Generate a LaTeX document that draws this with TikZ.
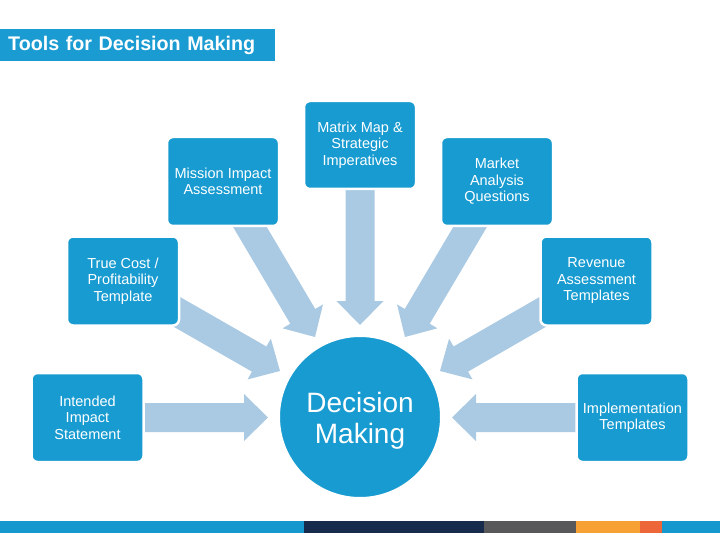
\documentclass[tikz,border=0pt]{standalone}
\usepackage{fontspec}
\setmainfont{Liberation Sans}
\usetikzlibrary{calc}
\definecolor{boxblue}{RGB}{24,155,208}
\definecolor{titleblue}{RGB}{26,155,210}
\definecolor{arrowblue}{RGB}{170,202,227}
\definecolor{barblue}{RGB}{20,152,206}
\definecolor{barnavy}{RGB}{23,43,77}
\definecolor{bargray}{RGB}{88,88,90}
\definecolor{barorange}{RGB}{247,160,52}
\definecolor{barred}{RGB}{237,102,57}
\newcommand\blockarrow[3]{%
  \coordinate (#1-h) at ($(#3)!24pt!(#2)$);
  \fill[arrowblue] ($(#2)!14.5pt!90:(#3)$) -- ($(#1-h)!14.5pt!90:(#3)$) -- ($(#1-h)!23.5pt!90:(#3)$) -- (#3)
    -- ($(#1-h)!23.5pt!-90:(#3)$) -- ($(#1-h)!14.5pt!-90:(#3)$) -- ($(#2)!14.5pt!-90:(#3)$) -- cycle;
}
\tikzset{
  toolbox/.style={rectangle, rounded corners=6pt, fill=boxblue, draw=white, line width=2.5pt,
    minimum width=112pt, minimum height=89pt, inner sep=2pt, align=center, text=white,
    font=\fontsize{14.5}{16.5}\selectfont},
  centre/.style={circle, fill=boxblue, draw=white, line width=2pt, minimum size=162pt, inner sep=0pt,
    align=center, text=white, font=\fontsize{28}{31}\selectfont},
}
\begin{document}
\begin{tikzpicture}[x=1pt,y=-1pt]
\useasboundingbox (0,0) rectangle (720,540);
% title
\node[anchor=west, fill=titleblue, minimum width=275pt, minimum height=32pt, inner xsep=8pt, inner ysep=0pt,
  text width=259pt, align=left, text=white, font=\bfseries\fontsize{19.7}{22}\selectfont] (title) at (0,45) {Tools for Decision Making};
% anchor points (node centres) for arrows
\coordinate (c-mission) at (223,181.5);
\coordinate (c-matrix) at (360,145);
\coordinate (c-market) at (497,181.5);
\coordinate (c-truecost) at (123,281);
\coordinate (c-revenue) at (596.5,281);
\coordinate (c-intended) at (87.5,417.5);
\coordinate (c-impl) at (632.5,417.5);
% arrow tips
\coordinate (t-matrix) at (360,325);
\coordinate (t-mission) at (315,337);
\coordinate (t-market) at (405,337);
\coordinate (t-truecost) at (280,371);
\coordinate (t-revenue) at (440,371);
\coordinate (t-intended) at (268,417.5);
\coordinate (t-impl) at (452,417.5);
% arrows
\blockarrow{a1}{c-matrix}{t-matrix}
\blockarrow{a2}{c-mission}{t-mission}
\blockarrow{a3}{c-market}{t-market}
\blockarrow{a4}{c-truecost}{t-truecost}
\blockarrow{a5}{c-revenue}{t-revenue}
\blockarrow{a6}{c-intended}{t-intended}
\blockarrow{a7}{c-impl}{t-impl}
% boxes
\node[toolbox] (mission) at (c-mission) {Mission Impact\\Assessment};
\node[toolbox, minimum height=88pt] (matrix) at (c-matrix) {Matrix Map \&\\Strategic\\Imperatives};
\node[toolbox] (market) at (c-market) {Market\\Analysis\\Questions};
\node[toolbox] (truecost) at (c-truecost) {True Cost /\\Profitability\\Template};
\node[toolbox] (revenue) at (c-revenue) {Revenue\\Assessment\\Templates};
\node[toolbox] (intended) at (c-intended) {Intended\\Impact\\Statement};
\node[toolbox] (impl) at (c-impl) {Implementation\\Templates};
\node[centre] (dm) at (360,417) {};
\node[align=center, text=white, font=\fontsize{28}{31}\selectfont] (dmtext) at (360,420.5) {Decision\\Making};
% bottom bar
\fill[barblue] (0,521) rectangle (304,533);
\fill[barnavy] (304,521) rectangle (484,533);
\fill[bargray] (484,521) rectangle (576,533);
\fill[barorange] (576,521) rectangle (640,533);
\fill[barred] (640,521) rectangle (662,533);
\fill[barblue] (662,521) rectangle (720,533);
\end{tikzpicture}
\end{document}
